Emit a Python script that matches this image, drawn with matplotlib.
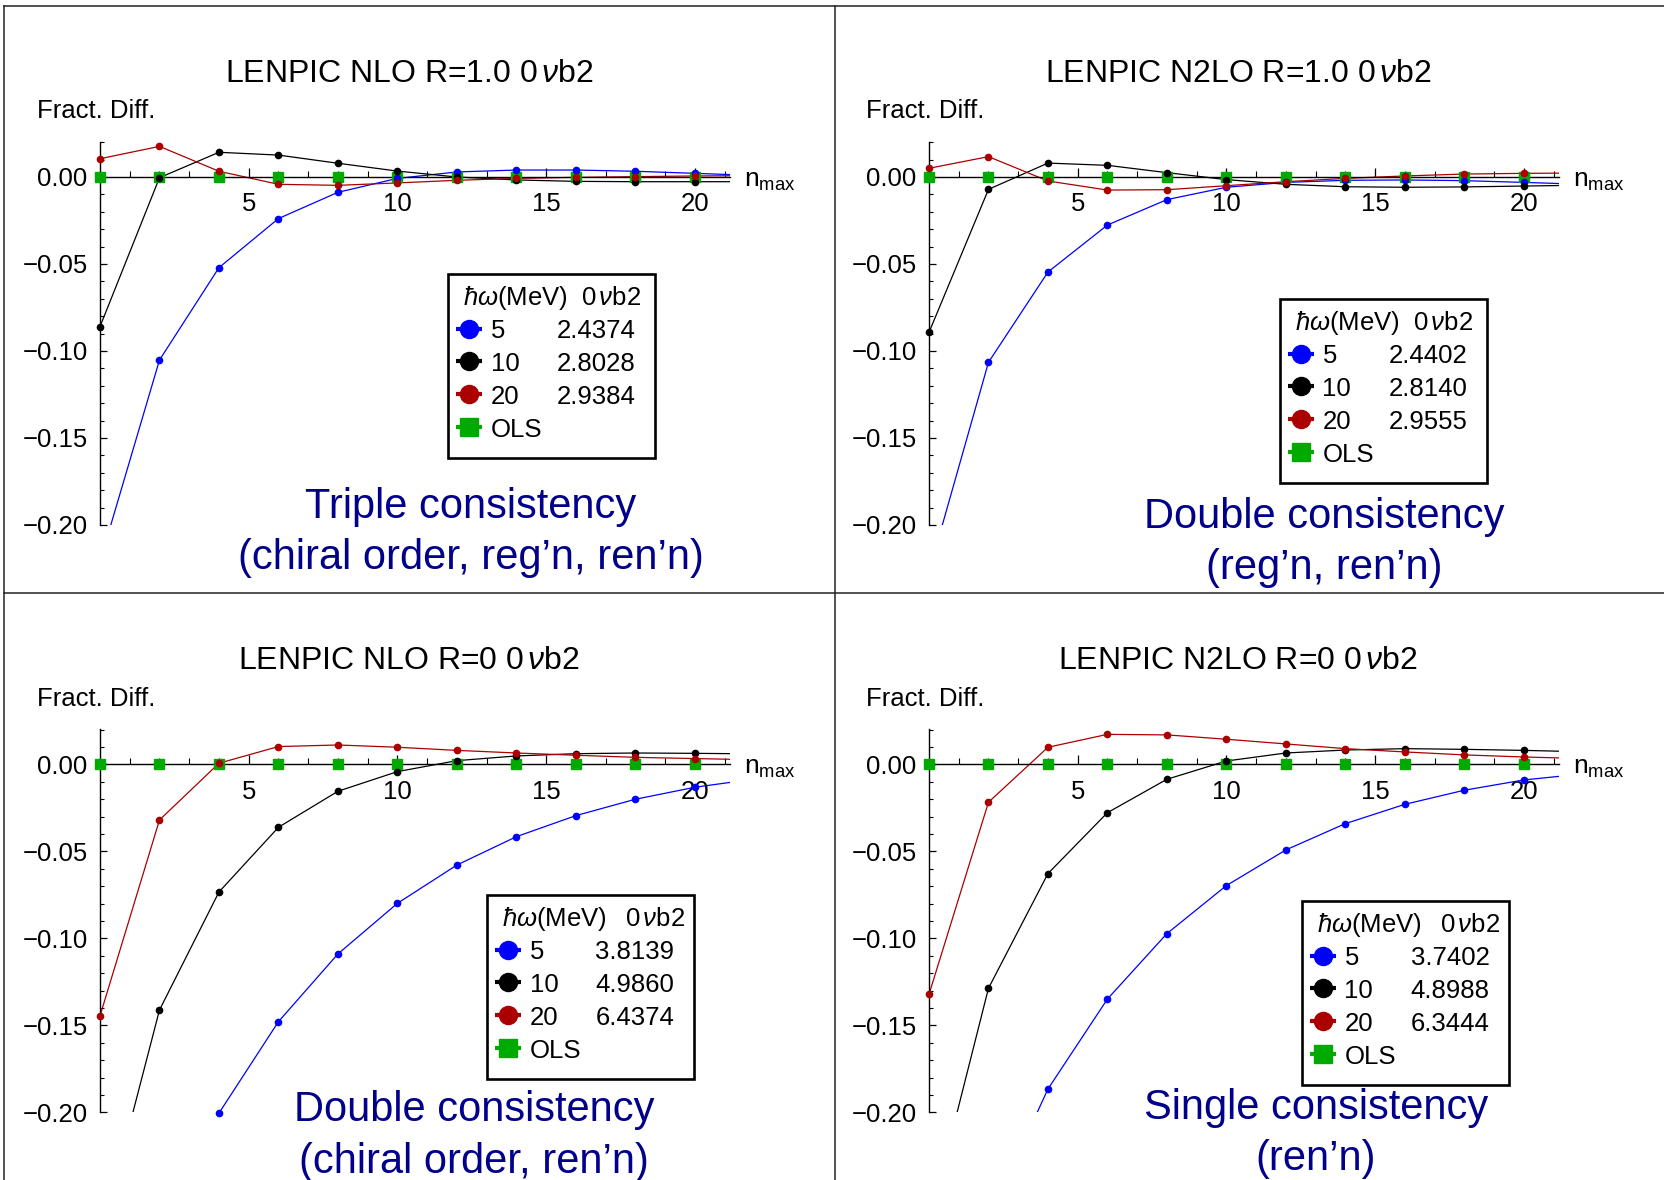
import matplotlib
matplotlib.use('Agg')
import numpy as np
import matplotlib.pyplot as plt
from matplotlib.lines import Line2D
from matplotlib.patches import Rectangle
from matplotlib.ticker import FixedLocator, MultipleLocator, FuncFormatter

plt.rcParams['font.family'] = ['Liberation Sans', 'DejaVu Sans']
plt.rcParams['mathtext.fontset'] = 'custom'
plt.rcParams['mathtext.rm'] = 'Liberation Sans'
plt.rcParams['mathtext.it'] = 'Liberation Sans:italic'
plt.rcParams['mathtext.bf'] = 'Liberation Sans:bold'

# ---- data ------------------------------------------------------------------
nmax = [0, 2, 4, 6, 8, 10, 12, 14, 16, 18, 20, 22]
nmax_ols = [0, 2, 4, 6, 8, 10, 12, 14, 16, 18, 20]
ols = [0.0] * 11
hw_labels = ['5', '10', '20']

# LENPIC NLO R=1.0
nlo_r1_hw5 = [-0.221, -0.1052, -0.0521, -0.0239, -0.0088, -0.0008, 0.0029, 0.0040, 0.0040, 0.0033, 0.0021, 0.0009]
nlo_r1_hw10 = [-0.0860, -0.0004, 0.0142, 0.0126, 0.0079, 0.0034, 0.0000, -0.0017, -0.0025, -0.0027, -0.0027, -0.0027]
nlo_r1_hw20 = [0.0105, 0.0176, 0.0033, -0.0042, -0.0048, -0.0034, -0.0019, -0.0008, -0.0002, 0.0002, 0.0006, 0.0008]
nlo_r1_0vb2 = ['2.4374', '2.8028', '2.9384']

# LENPIC N2LO R=1.0
n2lo_r1_hw5 = [-0.227, -0.1065, -0.0546, -0.0276, -0.0130, -0.0059, -0.0031, -0.0019, -0.0017, -0.0021, -0.0031, -0.0042]
n2lo_r1_hw10 = [-0.0893, -0.0071, 0.0080, 0.0067, 0.0025, -0.0015, -0.0042, -0.0056, -0.0059, -0.0057, -0.0052, -0.0047]
n2lo_r1_hw20 = [0.0050, 0.0117, -0.0023, -0.0075, -0.0073, -0.0050, -0.0027, -0.0008, 0.0006, 0.0017, 0.0021, 0.0023]
n2lo_r1_0vb2 = ['2.4402', '2.8140', '2.9555']

# LENPIC NLO R=0
nlo_r0_hw5 = [np.nan, np.nan, -0.2005, -0.1479, -0.1090, -0.0799, -0.0579, -0.0416, -0.0295, -0.0201, -0.0132, -0.0085]
nlo_r0_hw10 = [-0.273, -0.1412, -0.0734, -0.0362, -0.0155, -0.0042, 0.0021, 0.0048, 0.0061, 0.0065, 0.0063, 0.0060]
nlo_r0_hw20 = [-0.1446, -0.0320, 0.0006, 0.0102, 0.0111, 0.0098, 0.0080, 0.0065, 0.0052, 0.0040, 0.0033, 0.0026]
nlo_r0_0vb2 = ['3.8139', '4.9860', '6.4374']

# LENPIC N2LO R=0
n2lo_r0_hw5 = [np.nan, -0.261, -0.1866, -0.1349, -0.0973, -0.0697, -0.0492, -0.0341, -0.0230, -0.0149, -0.0090, -0.0055]
n2lo_r0_hw10 = [-0.264, -0.1287, -0.0628, -0.0278, -0.0086, 0.0019, 0.0065, 0.0082, 0.0090, 0.0086, 0.0080, 0.0072]
n2lo_r0_hw20 = [-0.1322, -0.0218, 0.0098, 0.0172, 0.0169, 0.0144, 0.0117, 0.0090, 0.0071, 0.0054, 0.0042, 0.0033]
n2lo_r0_0vb2 = ['3.7402', '4.8988', '6.3444']

colors = ['#0000ff', '#000000', '#aa0000']
green = '#00aa00'
navy = '#00008b'

W, H = 1664, 1180
XMAX = 21.2
YMIN, YMAX = -0.2, 0.0203


def fx(x):
    return x / W


def fy(y):
    return 1 - y / H


fig = plt.figure(figsize=(W / 100, H / 100), dpi=100)


def draw_panel(left, zero_y, title, series, values, note, leg_box, note_pos, title_gap):
    # left / zero_y: pixel position of the origin of the axes
    ax_h = (YMAX - YMIN) / 0.2 * 348
    bottom = zero_y + 348
    ax = fig.add_axes([fx(left), fy(bottom), XMAX * 29.74 / W, ax_h / H])
    ax.set_xlim(0, XMAX)
    ax.set_ylim(YMIN, YMAX)
    ax.patch.set_alpha(0)

    for ys, c in zip(series, colors):
        ax.plot(nmax, ys, color=c, lw=0.9, zorder=2)
        pts = [(x, y) for x, y in zip(nmax, ys) if x <= XMAX and y >= -0.2012]
        ax.plot([p[0] for p in pts], [p[1] for p in pts], 'o', color=c, ms=4.5,
                ls='none', clip_on=False, zorder=3)
    ax.plot(nmax_ols, ols, 's', color=green, ms=6.5, ls='none', clip_on=False, zorder=2.7)

    for s in ['top', 'right']:
        ax.spines[s].set_visible(False)
    ax.spines['bottom'].set_position(('data', 0))
    ax.spines['bottom'].set_linewidth(1.0)
    ax.spines['left'].set_linewidth(1.0)

    ax.xaxis.set_major_locator(FixedLocator([5, 10, 15, 20]))
    ax.xaxis.set_minor_locator(MultipleLocator(1))
    ax.yaxis.set_major_locator(FixedLocator([-0.2, -0.15, -0.1, -0.05, 0.0]))
    ax.yaxis.set_minor_locator(MultipleLocator(0.01))
    ax.yaxis.set_major_formatter(FuncFormatter(lambda v, p: ('%.2f' % v).replace('-', '\u2212')))
    ax.tick_params(axis='x', which='major', direction='in', length=6.5, width=0.9, pad=11, labelsize=18.5)
    ax.tick_params(axis='x', which='minor', direction='in', length=4, width=0.8)
    ax.tick_params(axis='y', which='major', direction='in', length=5, width=0.9, pad=9, labelsize=18.5)
    ax.tick_params(axis='y', which='minor', direction='in', length=3, width=0.8)

    ax.annotate(r'n$_{\mathrm{max}}$', xy=(1, 0), xycoords=('axes fraction', 'data'),
                xytext=(10, -7), textcoords='offset points', fontsize=19, va='baseline', ha='left')

    # titles
    fig.text(fx(left + 309), fy(zero_y - 95.5), title, fontsize=23, ha='center', va='baseline')
    fig.text(fx(left - 62.7), fy(zero_y - 58.7), 'Fract. Diff.', fontsize=18.5, ha='left', va='baseline')

    # legend box
    bx, by = leg_box
    fig.add_artist(Rectangle((fx(bx), fy(by + 184)), 207 / W, 184 / H, transform=fig.transFigure,
                             fill=True, facecolor='white', edgecolor='black', lw=1.9, zorder=5))
    fig.text(fx(bx + 15), fy(by + 31), r'$\hbar\omega$(MeV)', fontsize=18.5, va='baseline', zorder=6)
    fig.text(fx(bx + title_gap), fy(by + 31), r'0$\,\nu$b2', fontsize=18.5, va='baseline', zorder=6)
    labels = hw_labels + ['OLS']
    mcolors = colors + [green]
    for i in range(4):
        base = by + 64 + 32.9 * i
        mk = 'o' if i < 3 else 's'
        fig.add_artist(Line2D([fx(bx + 8), fx(bx + 34)], [fy(base - 9.5)] * 2, color=mcolors[i],
                              lw=3, transform=fig.transFigure, zorder=6, solid_capstyle='butt'))
        fig.add_artist(Line2D([fx(bx + 21)], [fy(base - 9.5)], color=mcolors[i], marker=mk,
                              ms=13 if i < 3 else 12.5, ls='none', transform=fig.transFigure, zorder=7))
        fig.text(fx(bx + 42.5), fy(base), labels[i], fontsize=18.5, va='baseline', zorder=6)
        if i < 3:
            fig.text(fx(bx + 108.5), fy(base), values[i], fontsize=18.5, va='baseline', zorder=6)

    # consistency note
    nx, ny = note_pos
    fig.text(fx(nx), fy(ny), note[0], fontsize=30, color=navy, ha='center', va='baseline')
    fig.text(fx(nx), fy(ny + 51), note[1], fontsize=30, color=navy, ha='center', va='baseline')
    return ax


draw_panel(100, 177, r'LENPIC NLO R=1.0 0$\,\nu$b2',
           [nlo_r1_hw5, nlo_r1_hw10, nlo_r1_hw20], nlo_r1_0vb2,
           ['Triple consistency', '(chiral order, reg\u2019n, ren\u2019n)'],
           (448, 274), (471, 518), 133)
draw_panel(929, 177, r'LENPIC N2LO R=1.0 0$\,\nu$b2',
           [n2lo_r1_hw5, n2lo_r1_hw10, n2lo_r1_hw20], n2lo_r1_0vb2,
           ['Double consistency', '(reg\u2019n, ren\u2019n)'],
           (1280, 299), (1324, 528), 133)
draw_panel(100, 764.3, r'LENPIC NLO R=0 0$\,\nu$b2',
           [nlo_r0_hw5, nlo_r0_hw10, nlo_r0_hw20], nlo_r0_0vb2,
           ['Double consistency', '(chiral order, ren\u2019n)'],
           (487, 895), (474, 1121.5), 138)
draw_panel(929, 764.3, r'LENPIC N2LO R=0 0$\,\nu$b2',
           [n2lo_r0_hw5, n2lo_r0_hw10, n2lo_r0_hw20], n2lo_r0_0vb2,
           ['Single consistency', '(ren\u2019n)'],
           (1302, 901), (1316, 1119), 138)

# frame lines around the four panels
for xs, ys in [((4.3, W), (6, 6)), ((4.3, 4.3), (6, H)), ((835.3, 835.3), (6, H)), ((4.3, W), (593.3, 593.3))]:
    fig.add_artist(Line2D([fx(x) for x in xs], [fy(y) for y in ys], color='#222222', lw=1.1,
                          transform=fig.transFigure))

fig.savefig('out.png', dpi=100)
